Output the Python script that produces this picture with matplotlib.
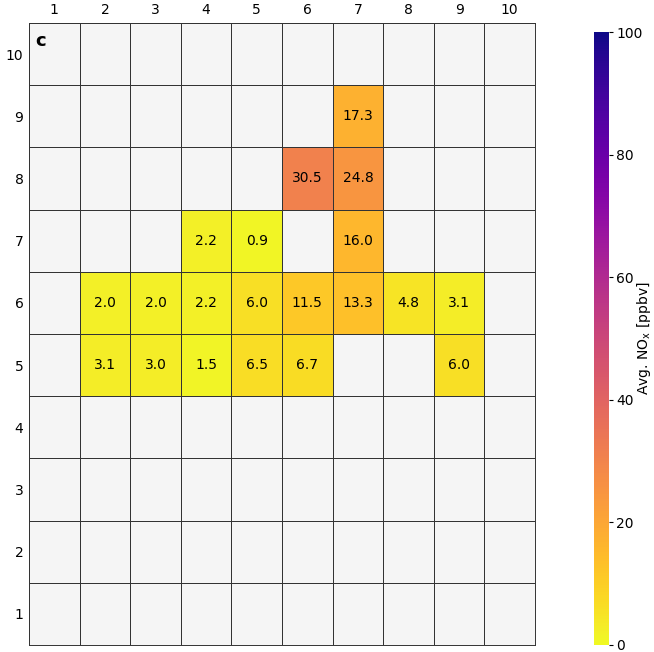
import numpy as np
import matplotlib
matplotlib.use("Agg")
import matplotlib.pyplot as plt

# data: (column, row, value)
col_idx = [7, 6, 7, 4, 5, 7, 2, 3, 4, 5, 6, 7, 8, 9, 2, 3, 4, 5, 6, 9]
row_idx = [9, 8, 8, 7, 7, 7, 6, 6, 6, 6, 6, 6, 6, 6, 5, 5, 5, 5, 5, 5]
values = [17.3, 30.5, 24.8, 2.2, 0.9, 16.0, 2.0, 2.0, 2.2, 6.0, 11.5, 13.3, 4.8, 3.1,
          3.1, 3.0, 1.5, 6.5, 6.7, 6.0]
tick_labels = [str(i) for i in range(1, 11)]

grid = np.full((10, 10), np.nan)
for c, r, v in zip(col_idx, row_idx, values):
    grid[r - 1, c - 1] = v

fig = plt.figure(figsize=(6.54, 6.52), dpi=100)
ax = fig.add_axes([29 / 654, 7 / 652, 506 / 654, 622 / 652])
cax = fig.add_axes([594 / 654, 7 / 652, 15 / 654, 613 / 652])

cmap = plt.get_cmap("plasma_r").copy()
cmap.set_bad("#f5f5f5")
edges = np.arange(0.5, 11.5, 1)
mesh = ax.pcolormesh(edges, edges, np.ma.masked_invalid(grid), cmap=cmap, vmin=0, vmax=100,
                     edgecolors="#333333", linewidth=0.7)
for c, r, v in zip(col_idx, row_idx, values):
    ax.text(c, r, f"{v:.1f}", ha="center", va="center", fontsize=10, color="black")

ax.set_xlim(0.5, 10.5)
ax.set_ylim(0.5, 10.5)
ax.set_xticks(range(1, 11))
ax.set_xticklabels(tick_labels)
ax.set_yticks(range(1, 11))
ax.set_yticklabels(tick_labels)
ax.xaxis.tick_top()
ax.tick_params(length=0, pad=4, labelsize=10)
for s in ax.spines.values():
    s.set_color("#333333")
    s.set_linewidth(0.7)
ax.text(0.012, 0.985, "c", transform=ax.transAxes, fontsize=13, fontweight="bold",
        ha="left", va="top")

cb = fig.colorbar(mesh, cax=cax)
cb.outline.set_visible(False)
cb.set_ticks([0, 20, 40, 60, 80, 100])
cb.ax.tick_params(labelsize=10, length=3, pad=2)
cb.set_label(r"Avg. NO$_\mathregular{x}$ [ppbv]", fontsize=10, labelpad=-5)

fig.savefig("out.png", dpi=100)
